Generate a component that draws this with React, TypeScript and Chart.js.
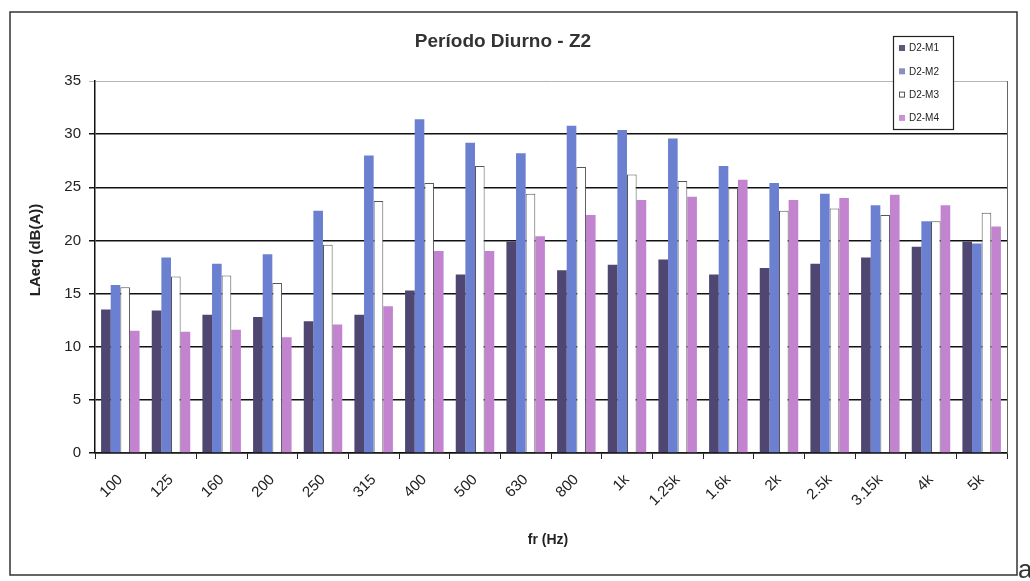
import React, { useEffect, useRef } from "react";
import { Chart, registerables } from "chart.js";

Chart.register(...registerables);

const categories = ["100", "125", "160", "200", "250", "315", "400", "500", "630", "800", "1k", "1.25k", "1.6k", "2k", "2.5k", "3.15k", "4k", "5k"];
const seriesNames = ["D2-M1", "D2-M2", "D2-M3", "D2-M4"];
const m1 = [13.5, 13.4, 13.0, 12.8, 12.4, 13.0, 15.3, 16.8, 19.9, 17.2, 17.7, 18.2, 16.8, 17.4, 17.8, 18.4, 19.4, 19.9];
const m2 = [15.8, 18.4, 17.8, 18.7, 22.8, 28.0, 31.4, 29.2, 28.2, 30.8, 30.4, 29.6, 27.0, 25.4, 24.4, 23.3, 21.8, 19.7];
const m3 = [15.6, 16.6, 16.7, 16.0, 19.6, 23.7, 25.4, 27.0, 24.4, 26.9, 26.2, 25.6, 24.9, 22.8, 23.0, 22.4, 21.8, 22.6];
const m4 = [11.5, 11.4, 11.6, 10.9, 12.1, 13.8, 19.0, 19.0, 20.4, 22.4, 23.8, 24.1, 25.7, 23.8, 24.0, 24.3, 23.3, 21.3];
const yMin = 0;
const yMax = 35;
const yStep = 5;

const titleText = "Período Diurno - Z2";
const yTitle = "LAeq (dB(A))";
const xTitle = "fr (Hz)";

const fillColors = ["#4f4672", "#6b80d0", "#ffffff", "#c283cf"];
const borderColors = ["#4f4672", "#6b80d0", "#555555", "#c283cf"];
const legendColors = ["#5d5878", "#8a8fc0", "#ffffff", "#c894cf"];

const FONT = "'Liberation Sans', Arial, sans-serif";

export default function App() {
  const ref = useRef<HTMLCanvasElement | null>(null);

  useEffect(() => {
    if (!ref.current) return;
    const values = [m1, m2, m3, m4];

    const decor = {
      id: "decor",
      afterDatasetsDraw(chart: any) {
        const { ctx, chartArea } = chart;
        ctx.save();
        ctx.strokeStyle = "#666";
        ctx.lineWidth = 1;
        ctx.beginPath();
        ctx.moveTo(chartArea.right + 0.5, chartArea.top);
        ctx.lineTo(chartArea.right + 0.5, chartArea.bottom);
        ctx.stroke();

        ctx.fillStyle = "#333";
        ctx.font = `bold 19px ${FONT}`;
        ctx.textAlign = "center";
        ctx.textBaseline = "middle";
        ctx.fillText(titleText, 503, 42);

        ctx.font = `bold 14px ${FONT}`;
        ctx.fillStyle = "#222";
        ctx.fillText(xTitle, 548, 540);

        ctx.save();
        ctx.translate(36, 250);
        ctx.rotate(-Math.PI / 2);
        ctx.font = `bold 15px ${FONT}`;
        ctx.fillText(yTitle, 0, 0);
        ctx.restore();

        const lx = 893, ly = 36, lw = 60, lh = 93;
        ctx.fillStyle = "#fff";
        ctx.fillRect(lx, ly, lw, lh);
        ctx.strokeStyle = "#222";
        ctx.lineWidth = 1.2;
        ctx.strokeRect(lx + 0.5, ly + 0.5, lw, lh);
        ctx.font = `10px ${FONT}`;
        ctx.textAlign = "left";
        ctx.textBaseline = "middle";
        seriesNames.forEach((name, i) => {
          const cy = 48 + i * 23.3;
          ctx.fillStyle = legendColors[i];
          ctx.fillRect(899, cy - 3, 6, 6);
          if (i === 2) {
            ctx.strokeStyle = "#555";
            ctx.lineWidth = 1;
            ctx.strokeRect(899.5, cy - 2.5, 5, 5);
          }
          ctx.fillStyle = "#222";
          ctx.fillText(name, 909, cy + 0.5);
        });

        ctx.strokeStyle = "#333";
        ctx.lineWidth = 1.5;
        ctx.strokeRect(10, 12, 1007, 563);

        ctx.fillStyle = "#333";
        ctx.font = `26px ${FONT}`;
        ctx.textAlign = "left";
        ctx.textBaseline = "alphabetic";
        ctx.fillText("a)", 1018, 578);
        ctx.restore();
      },
    };

    const chart = new Chart(ref.current, {
      type: "bar",
      data: {
        labels: categories,
        datasets: seriesNames.map((name, i) => ({
          label: name,
          data: values[i],
          backgroundColor: fillColors[i],
          borderColor: borderColors[i],
          borderWidth: i === 2 ? 1 : 0,
          categoryPercentage: 0.76,
          barPercentage: 1.0,
        })),
      },
      options: {
        responsive: false,
        animation: false,
        devicePixelRatio: 1,
        layout: { padding: { left: 0, top: 81, right: 23, bottom: 0 } },
        plugins: {
          legend: { display: false },
          title: { display: false },
          tooltip: { enabled: false },
        },
        scales: {
          x: {
            afterFit: (scale: any) => {
              scale.height = 128;
            },
            grid: {
              display: true,
              drawOnChartArea: false,
              drawTicks: true,
              tickLength: 6,
              color: "#222",
              lineWidth: 1,
              offset: true,
            },
            border: { display: true, color: "#111", width: 1.5 },
            ticks: {
              autoSkip: false,
              minRotation: 45,
              maxRotation: 45,
              padding: 12,
              color: "#222",
              font: { family: FONT, size: 15 },
            },
          },
          y: {
            min: yMin,
            max: yMax,
            afterFit: (scale: any) => {
              scale.width = 95;
            },
            ticks: {
              stepSize: yStep,
              padding: 8,
              color: "#222",
              font: { family: FONT, size: 15 },
            },
            grid: {
              color: (c: any) => (c.tick && c.tick.value === yMax ? "#b5b5b5" : "#111"),
              lineWidth: (c: any) => (c.tick && c.tick.value === yMax ? 1 : 1.5),
              tickLength: 6,
              drawTicks: true,
            },
            border: { display: true, color: "#111", width: 1.5 },
          },
        },
      },
      plugins: [decor],
    });
    return () => chart.destroy();
  }, []);

  return (
    <div style={{ position: "absolute", left: 0, top: 0, width: 1030, height: 581, background: "#fff" }}>
      <canvas ref={ref} width={1030} height={581} style={{ display: "block" }} />
    </div>
  );
}
